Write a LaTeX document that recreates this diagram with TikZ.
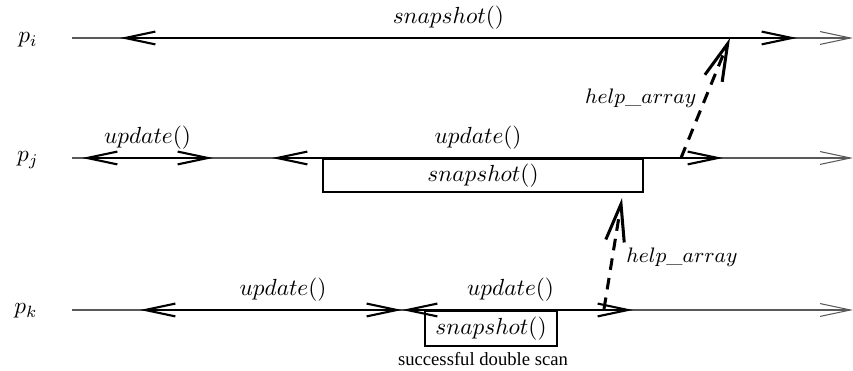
\documentclass[tikz,border=0pt]{standalone}
\usepackage{fontspec}
\newfontfamily\scanfont{Liberation Serif}
\usetikzlibrary{arrows.meta,positioning}
\tikzset{
  barb/.tip={Straight Barb[length=13pt,width=5.5pt]},
  procline/.style={black!65,line width=0.45pt,-barb},
  interval/.style={line width=0.9pt,barb-barb},
  snapbox/.style={draw,line width=0.9pt,inner sep=2pt},
  helparrow/.style={line width=1.3pt,dash pattern=on 5pt off 3.5pt,-{Straight Barb[length=16pt,width=8pt]}},
  helplabel/.style={font=\small}
}
\begin{document}
\begin{tikzpicture}[x=0.429pt,y=-0.429pt]
  \useasboundingbox (0,0) rectangle (853,371);
  % Processes
  \node (pi) at (28,40)  {$p_i$};
  \node (pj) at (28,160) {$p_j$};
  \node (pk) at (26,311) {$p_k$};
  \coordinate (i start) at (72,38);
  \coordinate (i end)   at (853,38);
  \coordinate (j start) at (72,158);
  \coordinate (j end)   at (853,158);
  \coordinate (k start) at (72,310);
  \coordinate (k end)   at (853,310);
  \draw[procline] (i start) -- (i end);
  \draw[procline] (j start) -- (j end);
  \draw[procline] (k start) -- (k end);
  % Operations of p_i
  \coordinate (i snap start) at (120,38);
  \coordinate (i snap end)   at (797,38);
  \path (i snap start) edge[interval] node[above,pos=0.485] {$snapshot()$} (i snap end);
  % Operations of p_j
  \coordinate (j upd 1 start) at (82,158);
  \coordinate (j upd 1 end)   at (213,158);
  \coordinate (j upd 2 start) at (272,158);
  \coordinate (j upd 2 end)   at (723,158);
  \path
  (j upd 1 start) edge[interval] node[above] {$update()$} (j upd 1 end)
  (j upd 2 start) edge[interval] node[above,pos=0.457] {$update()$} (j upd 2 end);
  \node[snapbox,minimum width=137pt,minimum height=14pt,anchor=north] (j snap) at (483,158) {$snapshot()$};
  % Operations of p_k
  \coordinate (k upd 1 start) at (140,310);
  \coordinate (k upd 1 end)   at (402,310);
  \coordinate (k upd 2 end)   at (633,310);
  \path
  (k upd 1 start) edge[interval] node[above,pos=0.546] {$update()$} (k upd 1 end)
  (k upd 1 end)   edge[interval] node[above,pos=0.47] {$update()$} (k upd 2 end);
  \node[snapbox,minimum width=57pt,minimum height=15pt,anchor=north] (k snap) at (491,310) {$snapshot()$};
  \node[font=\scanfont\footnotesize] (scan) at (483,359) {successful double scan};
  % Help arrays
  \coordinate (k help start) at (604,309);
  \coordinate (k help end)   at (622,198);
  \coordinate (j help start) at (681,158);
  \coordinate (j help end)   at (730,38);
  \draw[helparrow] (k help start) -- node[right,pos=0.47,xshift=2pt,helplabel] {$help\_array$} (k help end);
  \draw[helparrow] (j help start) -- node[left,pos=0.5,helplabel] {$help\_array$} (j help end);
\end{tikzpicture}
\end{document}
